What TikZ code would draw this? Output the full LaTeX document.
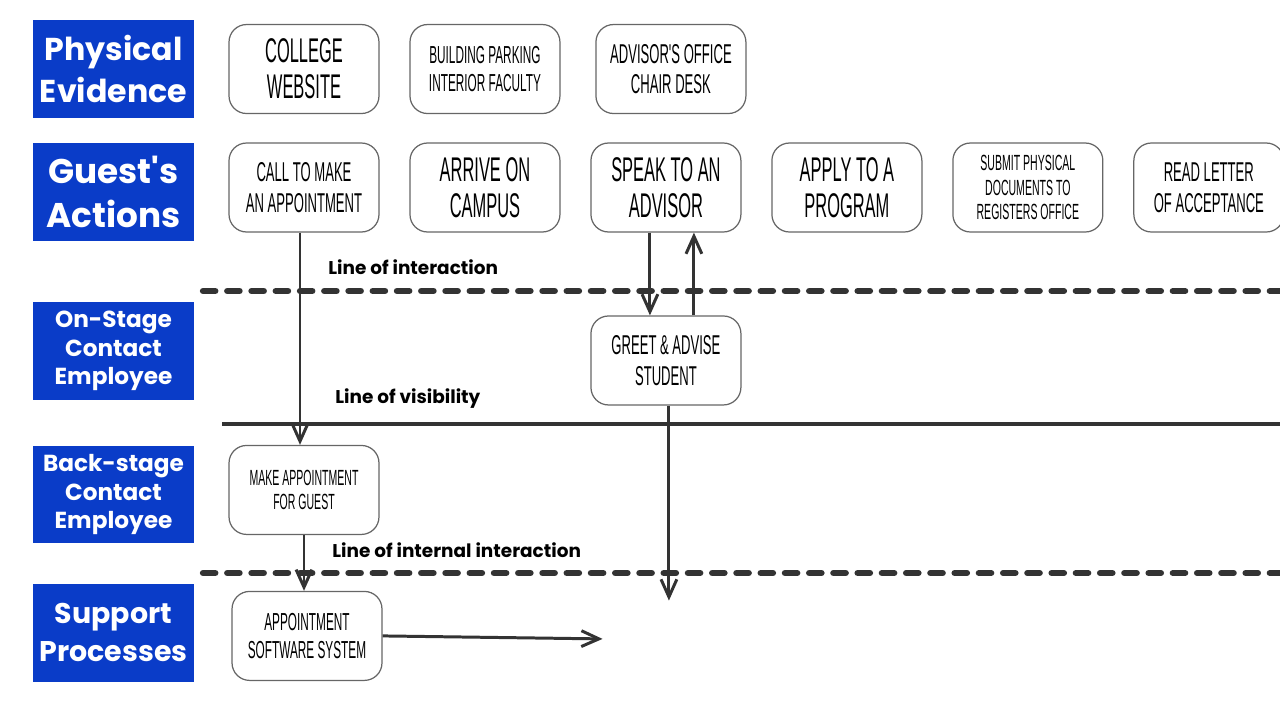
\documentclass[tikz,border=0pt]{standalone}
\usepackage{fontspec}
\usepackage{xcolor}
\usetikzlibrary{positioning, arrows.meta}
\newfontfamily\lanefont{Poppins}
\newfontfamily\handfont[FakeStretch=0.48]{Liberation Sans}
\definecolor{laneblue}{RGB}{10,60,200}
\definecolor{inkgray}{RGB}{51,51,51}
\tikzset{
	lane/.style={fill=laneblue, text=white, align=center, inner sep=0pt, minimum width=3.22cm, minimum height=1.96cm, font=\lanefont\bfseries#1}, % blue row titles
	act/.style={draw=gray!80!black, line width=0.7pt, rounded corners=10pt, fill=white, align=center, inner sep=2pt, minimum width=3cm, minimum height=1.78cm}, % rounded action boxes
	big/.style={font=\handfont\fontsize{19.5}{20.5}\selectfont},
	mid/.style={font=\handfont\fontsize{15.5}{17.5}\selectfont},
	small/.style={font=\handfont\fontsize{14}{16}\selectfont},
	tight/.style={font=\handfont\fontsize{12.5}{14}\selectfont},
	flow/.style={->, draw=inkgray, line width=1.7pt, >={Straight Barb[length=10pt,width=9pt]}}, % hand drawn arrows
	dashline/.style={draw=inkgray, line width=3.6pt, line cap=round, dash pattern=on 7pt off 6.8pt},
	lineinfo/.style={anchor=west, inner sep=0pt, font=\lanefont\bfseries\fontsize{10.5}{12}\selectfont},
}
\begin{document}
\begin{tikzpicture}[x=0.02cm, y=-0.02cm, node distance=3.62cm, on grid]
	\useasboundingbox (0,0) rectangle (1280,720);
	% Row titles
	\node[lane=\fontsize{18}{24}\selectfont] (physical) at (113.5,69) {Physical\\Evidence};
	\node[lane=\fontsize{19.5}{25.5}\selectfont] (guests) at (113.5,192) {Guest's\\Actions};
	\node[lane=\fontsize{13.2}{16.4}\selectfont] (onstage) at (113.5,351) {On-Stage\\Contact\\Employee};
	\node[lane=\fontsize{13.2}{16.4}\selectfont] (backstage) at (113.5,494.5) {Back-stage\\Contact\\Employee};
	\node[lane=\fontsize{16.2}{21.5}\selectfont] (supportlane) at (113.5,632.5) {Support\\Processes};
	
	% Separating lines
	\draw[dashline] (203,291) -- (1280,291);
	\draw[inkgray, line width=2.3pt] (222,424) -- (1280,424);
	\draw[dashline] (203,573) -- (1280,573);
	\node[lineinfo] (interaction) at (328,267) {Line of interaction};
	\node[lineinfo] (visibility) at (335,399) {Line of visibility};
	\node[lineinfo] (internal) at (332,550) {Line of internal interaction};
	
	% Guest's actions
	\node[act, mid] (call) at (304,187.5) {CALL TO MAKE\\AN APPOINTMENT};
	\node[act, big, right=of call] (arrive) {ARRIVE ON\\CAMPUS};
	\node[act, big, right=of arrive] (speak) {SPEAK TO AN\\ADVISOR};
	\node[act, big, right=of speak] (apply) {APPLY TO A\\PROGRAM};
	\node[act, tight, right=of apply] (submit) {SUBMIT PHYSICAL\\DOCUMENTS TO\\REGISTERS OFFICE};
	\node[act, mid, right=of submit] (read) {READ LETTER\\OF ACCEPTANCE};
	
	% Physical evidence
	\node[act, big, above=2.37cm of call] (website) {COLLEGE\\WEBSITE};
	\node[act, small, above=2.37cm of arrive] (building) {BUILDING PARKING\\INTERIOR FACULTY};
	\node[act, mid, above=2.37cm of speak, xshift=0.1cm] (office) {ADVISOR'S OFFICE\\CHAIR DESK};
	
	% Employees and support
	\node[act, mid, below=3.46cm of speak] (greet) {GREET \& ADVISE\\STUDENT};
	\node[act, tight, below=6.05cm of call] (make) {MAKE APPOINTMENT\\FOR GUEST};
	\node[act, small, below=2.92cm of make, xshift=0.06cm] (software) {APPOINTMENT\\SOFTWARE SYSTEM};
	\coordinate (greetend) at ([xshift=0.06cm, yshift=-3.9cm]greet.south);
	\coordinate (softwareend) at ([xshift=4.4cm, yshift=-0.06cm]software.east);
	
	% Flows
	\draw[flow] ([xshift=-0.08cm]call.south) -- ([xshift=-0.08cm]make.north);
	\draw[flow] (make.south) -- (make.south |- software.north);
	\draw[flow] ([xshift=-0.32cm]speak.south) -- ([xshift=-0.32cm]greet.north);
	\draw[flow] ([xshift=0.56cm]greet.north) -- ([xshift=0.56cm]speak.south);
	\draw[flow] ([xshift=0.06cm]greet.south) -- (greetend);
	\draw[flow] (software.east) -- (softwareend);
\end{tikzpicture}
\end{document}
